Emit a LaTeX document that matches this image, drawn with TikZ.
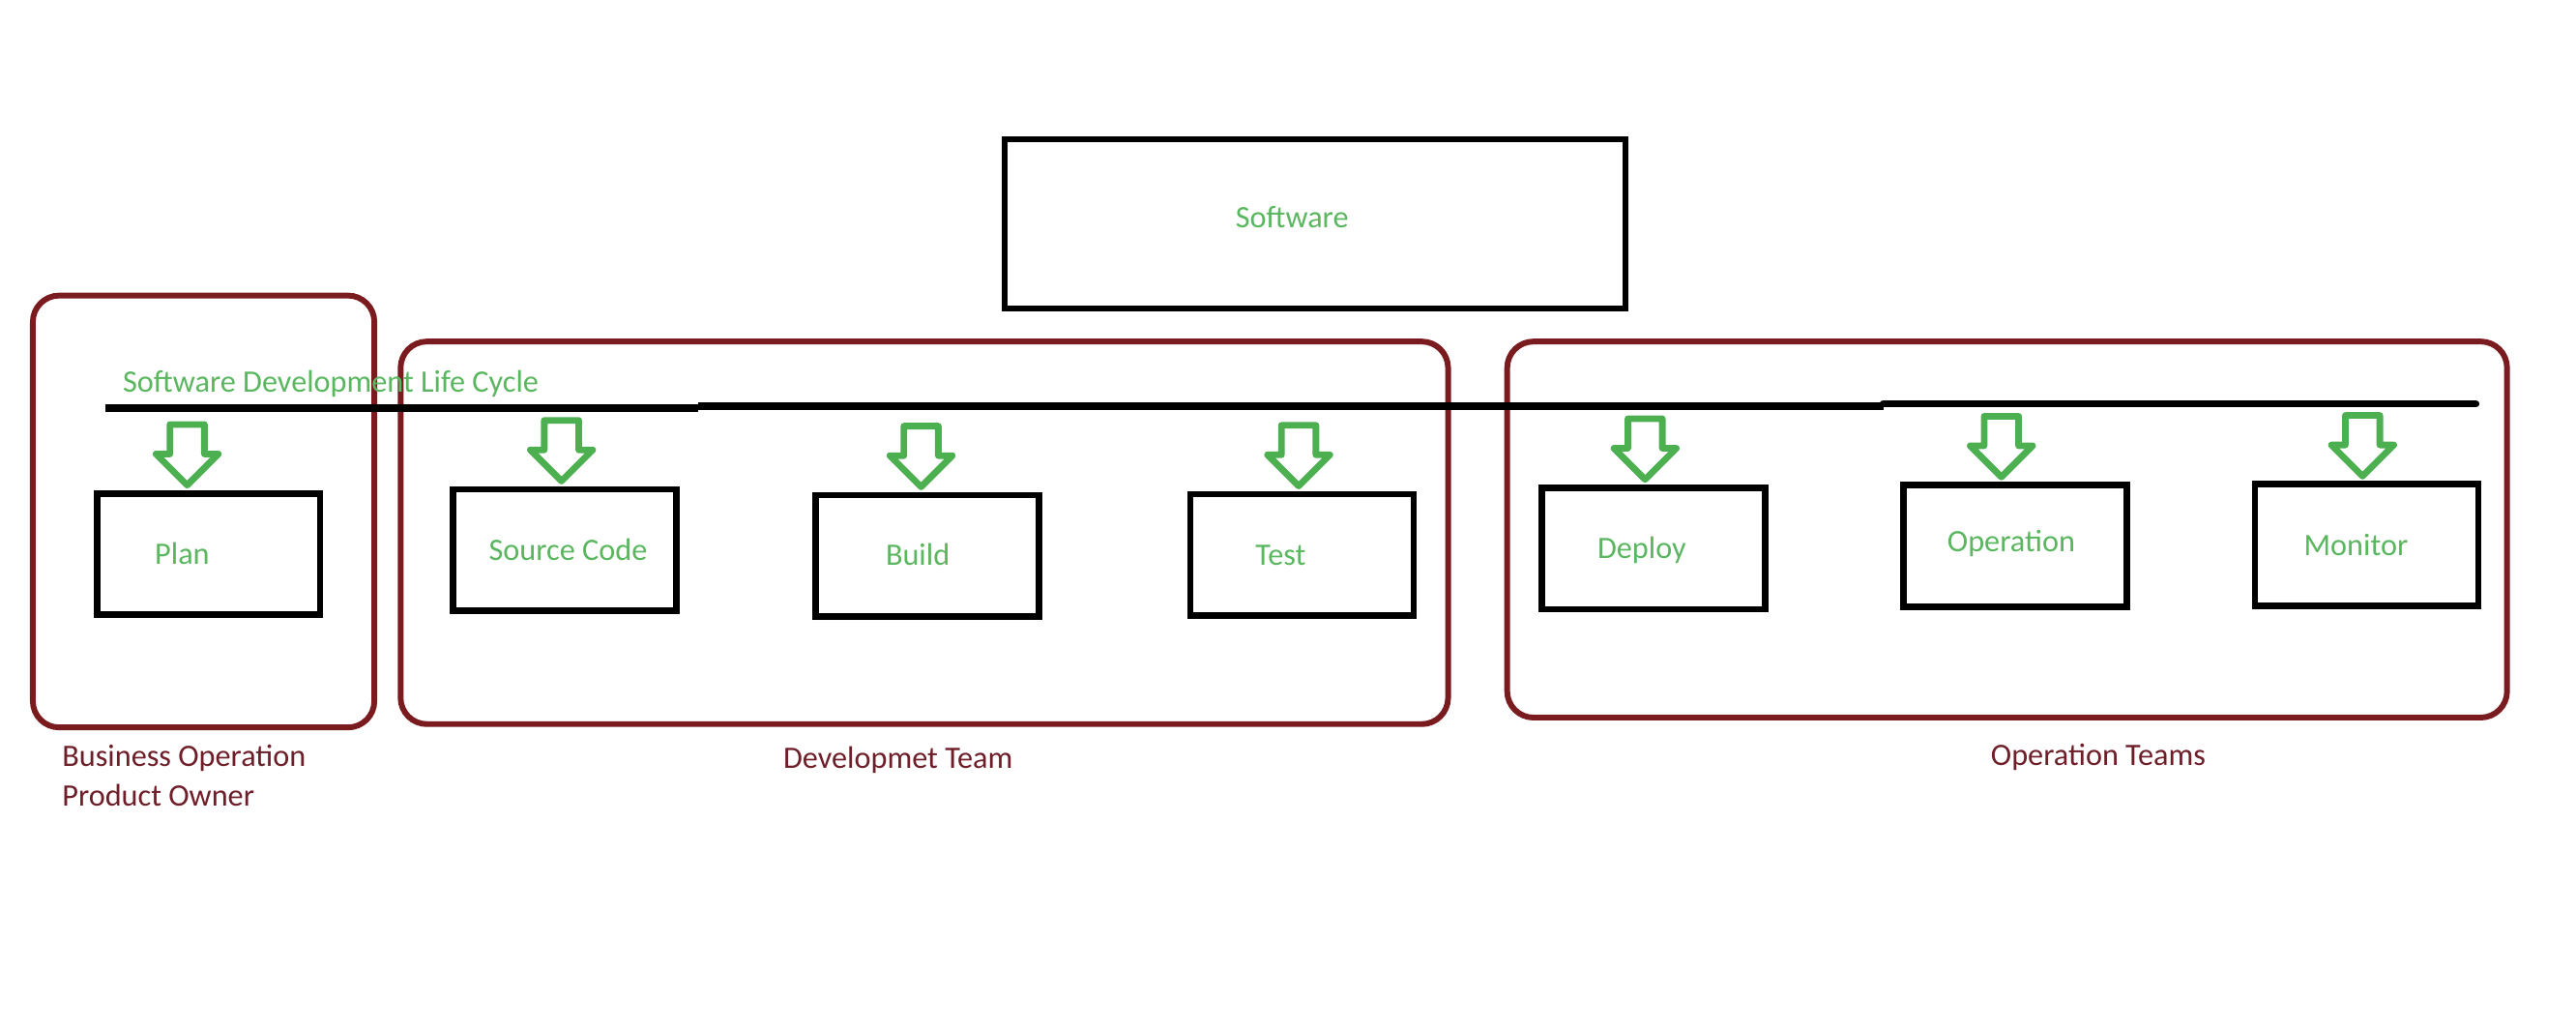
\documentclass[tikz,border=0pt]{standalone}
\usepackage{fontspec}
\setmainfont{Carlito}
\usetikzlibrary{calc}
\definecolor{arrowgreen}{RGB}{76,175,80}
\definecolor{textgreen}{RGB}{90,182,95}
\definecolor{teamred}{RGB}{122,27,31}
\definecolor{teamtext}{RGB}{110,30,40}

\tikzset{
  stepbox/.style={draw=black, line width=2pt, minimum width=68pt, minimum height=37pt, inner sep=0pt},
  teambox/.style={draw=teamred, line width=1.75pt, rounded corners=8pt},
  greentext/.style={text=textgreen, inner sep=0.75pt, font=\fontsize{9.5}{11}\selectfont},
  teamlabel/.style={text=teamtext, inner sep=0.75pt, font=\fontsize{9.5}{12}\selectfont, align=left},
  downarrow/.style={draw=arrowgreen, line width=2pt, line join=round}
}

\begin{document}
\begin{tikzpicture}[x=0.5pt,y=0.5pt,yscale=-1,xscale=1]
\useasboundingbox (0,0) rectangle (1569,626);

% top box
\node [draw=black, line width=1.75pt, minimum width=189pt, minimum height=51.5pt] (software) at (801,136.5) {};
\node [greentext] (softwaretext) at (787,132) {Software};

% team frames
\draw [teambox] (20,180) rectangle (228,443);
\draw [teambox] (244,208) rectangle (882,441);
\draw [teambox] (918,208) rectangle (1527,437);

% life cycle line
\draw [line width=2.2pt] (64,248.5) -- (425,248.5);
\draw [line width=2.2pt] (425,247.5) -- (1147,247.5);
\draw [line width=2.2pt, line cap=round] (1147,246) -- (1508,246);
\node [greentext, anchor=west] (sdlc) at (73,234) {Software Development Life Cycle};

% steps
\node [stepbox] (plan) at (127,337.5) {};
\node [stepbox] (source) at (344,335) {};
\node [stepbox] (build) at (565,338.5) {};
\node [stepbox] (test) at (793,338) {};
\node [stepbox] (deploy) at (1007,334) {};
\node [stepbox] (operation) at (1227.5,332.5) {};
\node [stepbox] (monitor) at (1441.5,332) {};

\node [greentext] (plantext) at (111,337) {Plan};
\node [greentext] (sourcetext) at (346,335) {Source Code};
\node [greentext] (buildtext) at (559,338) {Build};
\node [greentext] (testtext) at (780,338) {Test};
\node [greentext] (deploytext) at (1000,335) {Deploy};
\node [greentext] (operationtext) at (1225,331) {Operation};
\node [greentext] (monitortext) at (1435,332) {Monitor};

% arrows into the steps
\foreach \b/\dx in {plan/-13, source/-2, build/-4, test/-2, deploy/-5, operation/-8.5, monitor/-2.5}
  \draw [downarrow] ($(\b.north)+(\dx,-3)$) -- ++(19,-19) -- ++(-8.5,0) -- ++(0,-18) -- ++(-21,0) -- ++(0,18) -- ++(-8.5,0) -- cycle;

% team names
\node [teamlabel, anchor=north west] (business) at (36,452) {Business Operation\\Product Owner};
\node [teamlabel] (devteam) at (547,463) {Developmet Team};
\node [teamlabel] (opsteam) at (1278,461) {Operation Teams};

\end{tikzpicture}
\end{document}
